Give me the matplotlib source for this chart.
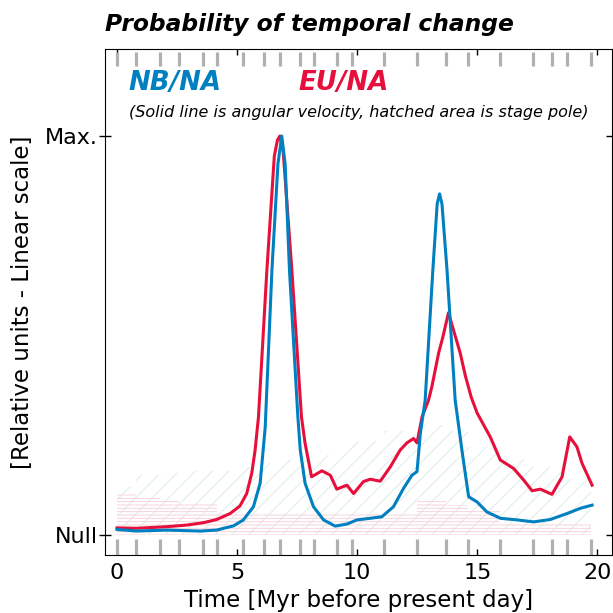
import numpy as np
import matplotlib
matplotlib.use("Agg")
import matplotlib.pyplot as plt

# stage boundaries (Myr), gray marks on top/bottom
stage_ages = [0.0, 0.78, 1.78, 2.58, 3.58, 4.18, 5.23, 6.1, 6.8, 7.6, 8.2,
              9.15, 9.8, 11.1, 12.5, 13.7, 14.6, 15.95, 17.3, 18.1, 18.75, 19.75]

# stage pole probability (hatched), one value per stage
pole_eu = [0.105, 0.098, 0.088, 0.08, 0.08, 0.053, 0.053, 0.053, 0.053, 0.053,
           0.053, 0.053, 0.053, 0.053, 0.085, 0.075, 0.06, 0.028, 0.028, 0.028, 0.028]
pole_nb = [0.12, 0.15, 0.155, 0.16, 0.16, 0.16, 0.17, 0.18, 0.19, 0.195, 0.2,
           0.22, 0.235, 0.26, 0.275, 0.26, 0.22, 0.19, 0.17, 0.16, 0.14]

# angular velocity probability
t_nb = [0.0, 0.82, 2.07, 3.46, 4.15, 4.85, 5.26, 5.68, 5.96, 6.17, 6.45, 6.7,
        6.86, 7.0, 7.18, 7.53, 7.63, 7.83, 8.18, 8.6, 9.08, 9.57, 9.99, 10.54,
        11.03, 11.51, 11.93, 12.28, 12.49, 12.63, 12.83, 13.15, 13.33, 13.43,
        13.53, 13.74, 14.08, 14.36, 14.64, 14.99, 15.4, 15.96, 16.65, 17.35,
        18.04, 18.74, 19.29, 19.78]
v_nb = [0.014, 0.010, 0.0125, 0.010, 0.0125, 0.023, 0.038, 0.071, 0.13, 0.27,
        0.664, 0.93, 1.0, 0.93, 0.664, 0.296, 0.213, 0.13, 0.071, 0.038, 0.0225,
        0.0275, 0.038, 0.042, 0.046, 0.071, 0.117, 0.15, 0.159, 0.255, 0.338,
        0.664, 0.83, 0.855, 0.83, 0.664, 0.338, 0.213, 0.096, 0.083, 0.058,
        0.042, 0.038, 0.033, 0.039, 0.054, 0.067, 0.075]

t_eu = [0.0, 0.82, 2.07, 2.9, 3.6, 4.15, 4.71, 5.12, 5.4, 5.61, 5.75, 5.89,
        6.24, 6.55, 6.68, 6.78, 6.92, 7.28, 7.68, 7.83, 8.1, 8.53, 8.88, 9.15,
        9.57, 9.85, 10.26, 10.54, 10.96, 11.38, 11.79, 12.07, 12.35, 12.49,
        12.7, 12.97, 13.11, 13.39, 13.57, 13.8, 14.29, 14.5, 14.75, 15.0,
        15.54, 15.96, 16.51, 16.93, 17.28, 17.63, 18.11, 18.53, 18.85, 19.15,
        19.36, 19.78]
v_eu = [0.018, 0.017, 0.021, 0.025, 0.031, 0.039, 0.054, 0.073, 0.104, 0.155,
        0.213, 0.296, 0.664, 0.95, 0.99, 1.0, 0.96, 0.664, 0.296, 0.23, 0.146,
        0.161, 0.15, 0.115, 0.125, 0.104, 0.134, 0.14, 0.135, 0.171, 0.213,
        0.231, 0.242, 0.231, 0.296, 0.338, 0.372, 0.456, 0.497, 0.557, 0.456,
        0.4, 0.345, 0.305, 0.246, 0.188, 0.167, 0.138, 0.111, 0.115, 0.102,
        0.146, 0.246, 0.221, 0.18, 0.125]

BLUE = "#0080c0"
RED = "#e6103c"

plt.rcParams["hatch.linewidth"] = 0.6

fig = plt.figure(figsize=(6.13, 6.13), dpi=100)
ax = fig.add_axes([0.1713, 0.0946, 0.8267, 0.8254])

edges = np.array(stage_ages)
ax.fill_between(edges, 0, pole_nb + [pole_nb[-1]], step="post",
                facecolor="none", edgecolor="#d6e8e8", hatch="//", linewidth=0, zorder=1)
ax.fill_between(edges, 0, pole_eu + [pole_eu[-1]], step="post",
                facecolor="none", edgecolor="#f6cdd6", hatch="-----", linewidth=0, zorder=1)

ax.plot(t_eu, v_eu, color=RED, lw=2.2, zorder=3)
ax.plot(t_nb, v_nb, color=BLUE, lw=2.2, zorder=4)

# stage boundary marks
tr = ax.get_xaxis_transform()
ax.vlines(stage_ages, 0.0, 0.032, color="#b0b0b0", lw=2.3, transform=tr, zorder=2)
ax.vlines(stage_ages, 0.966, 0.994, color="#b0b0b0", lw=2.3, transform=tr, zorder=2)

ax.set_xlim(-0.5, 20.6)
ax.set_ylim(-0.05, 1.218)
ax.set_xticks([0, 5, 10, 15, 20])
ax.set_yticks([0, 1])
ax.set_yticklabels(["Null", "Max."])
ax.tick_params(axis="x", direction="in", top=True, bottom=True, length=4.5,
               width=1, labelsize=16, pad=6)
ax.tick_params(axis="y", direction="inout", left=True, right=True, length=9,
               width=1, labelsize=16, pad=0.5)

ax.set_xlabel("Time [Myr before present day]", fontsize=16.5, labelpad=4)
ax.set_ylabel("[Relative units - Linear scale]", fontsize=16.5)
ax.yaxis.set_label_coords(-0.14, 0.5)

fig.text(0.1713, 1 - 25 / 613, "Probability of temporal change", fontsize=16.8,
         fontweight="bold", fontstyle="italic", ha="left", va="center")
ax.text(0.047, 0.932, "NB/NA", transform=ax.transAxes, color=BLUE, fontsize=18.7,
        fontweight="bold", fontstyle="italic", ha="left", va="center")
ax.text(0.381, 0.932, "EU/NA", transform=ax.transAxes, color=RED, fontsize=18.7,
        fontweight="bold", fontstyle="italic", ha="left", va="center")
ax.text(0.047, 0.875, "(Solid line is angular velocity, hatched area is stage pole)",
        transform=ax.transAxes, fontsize=11.5, fontstyle="italic", ha="left", va="center")

fig.savefig("out.png", dpi=100)
